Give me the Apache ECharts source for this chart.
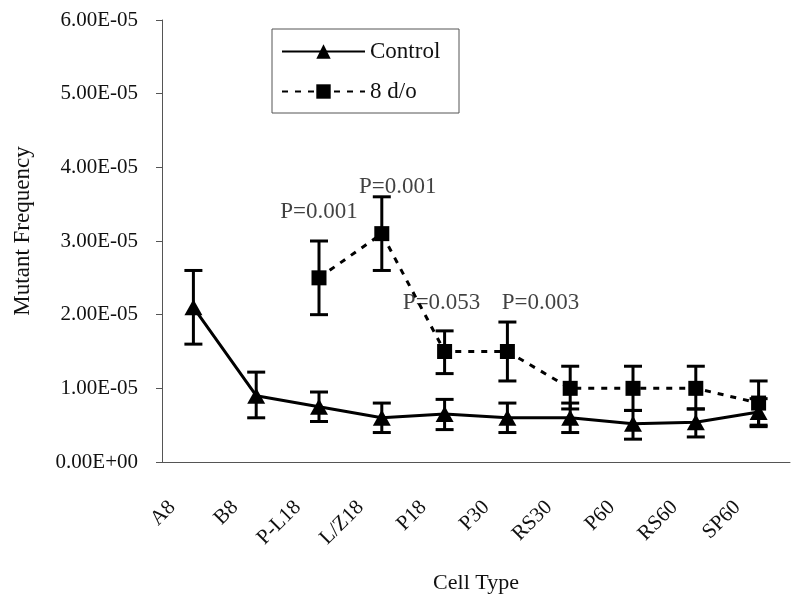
<!DOCTYPE html>
<html>
<head>
<meta charset="utf-8">
<script src="https://cdn.jsdelivr.net/npm/echarts@6/dist/echarts.min.js"></script>
<style>
  html, body { margin: 0; padding: 0; background: #fff; }
  #chart { width: 800px; height: 599px; }
</style>
</head>
<body>
<div id="chart"></div>
<script>
// ---- data ----
const categories = ['A8', 'B8', 'P-L18', 'L/Z18', 'P18', 'P30', 'RS30', 'P60', 'RS60', 'SP60'];

const controlMean = [2.1e-5, 0.9e-5, 0.75e-5, 0.6e-5, 0.65e-5, 0.6e-5, 0.6e-5, 0.52e-5, 0.54e-5, 0.68e-5];
const controlLow  = [1.6e-5, 0.6e-5, 0.55e-5, 0.4e-5, 0.44e-5, 0.4e-5, 0.4e-5, 0.31e-5, 0.34e-5, 0.5e-5];
const controlHigh = [2.6e-5, 1.22e-5, 0.95e-5, 0.8e-5, 0.85e-5, 0.8e-5, 0.8e-5, 0.7e-5, 0.72e-5, 0.86e-5];

const d8Mean = [null, null, 2.5e-5, 3.1e-5, 1.5e-5, 1.5e-5, 1.0e-5, 1.0e-5, 1.0e-5, 0.8e-5];
const d8Low  = [null, null, 2.0e-5, 2.6e-5, 1.2e-5, 1.1e-5, 0.72e-5, 0.7e-5, 0.72e-5, 0.48e-5];
const d8High = [null, null, 3.0e-5, 3.6e-5, 1.78e-5, 1.9e-5, 1.3e-5, 1.3e-5, 1.3e-5, 1.1e-5];

const seriesNames = ['Control', '8 d/o'];

const pLabels = ['P=0.001', 'P=0.001', 'P=0.053', 'P=0.003'];
const pCategories = ['P-L18', 'L/Z18', 'P18', 'P30'];
const pLevels = [3.39e-5, 3.74e-5, 2.16e-5, 2.16e-5];

const yTicks = { min: 0, max: 6e-5, interval: 1e-5 };

// ---- helpers ----
function sciLabel(v) {
  const s = Number(v).toExponential(2).toUpperCase(); // e.g. 6.00E-5
  const m = s.match(/^(-?[\d.]+)E([+-])(\d+)$/);
  if (!m) return s;
  return m[1] + 'E' + m[2] + (m[3].length < 2 ? '0' + m[3] : m[3]);
}

function errData(low, high) {
  const out = [];
  for (let i = 0; i < categories.length; i++) {
    if (low[i] != null && high[i] != null) out.push([i, low[i], high[i]]);
  }
  return out;
}

function renderErr(params, api) {
  const x = api.value(0);
  const lo = api.coord([x, api.value(1)]);
  const hi = api.coord([x, api.value(2)]);
  const hw = 9;
  const style = { stroke: '#000', lineWidth: 3, fill: null };
  return {
    type: 'group',
    children: [
      { type: 'line', shape: { x1: lo[0], y1: lo[1], x2: hi[0], y2: hi[1] }, style: style },
      { type: 'line', shape: { x1: lo[0] - hw, y1: lo[1], x2: lo[0] + hw, y2: lo[1] }, style: style },
      { type: 'line', shape: { x1: hi[0] - hw, y1: hi[1], x2: hi[0] + hw, y2: hi[1] }, style: style }
    ]
  };
}

const serif = 'Liberation Serif';
const pOffsets = [[0, 0], [16, 0], [-3, 0], [33, 0]];

const option = {
  backgroundColor: '#fff',
  animation: false,
  grid: { left: 162, right: 10, top: 20, bottom: 134 },
  legend: {
    orient: 'vertical',
    left: 272,
    top: 29,
    padding: [11, 9, 10, 9],
    itemGap: 17,
    itemWidth: 83,
    itemHeight: 18,
    borderColor: '#555',
    borderWidth: 1,
    backgroundColor: '#fff',
    textStyle: { fontFamily: serif, fontSize: 23, color: '#111', lineHeight: 22, width: 80 },
    data: seriesNames
  },
  xAxis: {
    type: 'category',
    data: categories,
    boundaryGap: true,
    name: 'Cell Type',
    nameLocation: 'middle',
    nameGap: 110,
    nameTextStyle: { fontFamily: serif, fontSize: 22, color: '#111' },
    axisLine: { lineStyle: { color: '#555', width: 1 } },
    axisTick: { show: false },
    axisLabel: {
      rotate: 45,
      margin: 21,
      padding: [0, 30, 0, 0],
      fontFamily: serif,
      fontSize: 21,
      color: '#111',
      interval: 0
    },
    splitLine: { show: false }
  },
  yAxis: {
    type: 'value',
    min: yTicks.min,
    max: yTicks.max,
    interval: yTicks.interval,
    name: 'Mutant Frequency',
    nameLocation: 'middle',
    nameGap: 128,
    nameRotate: 90,
    nameTextStyle: { fontFamily: serif, fontSize: 23, color: '#111', padding: [0, 0, 0, 20] },
    axisLine: { show: true, lineStyle: { color: '#555', width: 1 } },
    axisTick: { show: true, length: 6, inside: false, lineStyle: { color: '#555' } },
    axisLabel: {
      margin: 24,
      fontFamily: serif,
      fontSize: 21,
      color: '#111',
      formatter: sciLabel
    },
    splitLine: { show: false }
  },
  series: [
    {
      name: 'ControlErr',
      type: 'custom',
      renderItem: renderErr,
      data: errData(controlLow, controlHigh),
      z: 2,
      silent: true
    },
    {
      name: '8 d/oErr',
      type: 'custom',
      renderItem: renderErr,
      data: errData(d8Low, d8High),
      z: 2,
      silent: true
    },
    {
      name: seriesNames[0],
      type: 'line',
      data: controlMean,
      symbol: 'triangle',
      symbolSize: [18, 16],
      showSymbol: true,
      lineStyle: { color: '#000', width: 3 },
      itemStyle: { color: '#000' },
      z: 3
    },
    {
      name: seriesNames[1],
      type: 'line',
      data: d8Mean,
      symbol: 'rect',
      symbolSize: 15,
      showSymbol: true,
      connectNulls: false,
      lineStyle: { color: '#000', width: 3, type: [6, 7] },
      itemStyle: { color: '#000' },
      z: 3
    },
    {
      name: 'pvalues',
      type: 'scatter',
      symbolSize: 0,
      silent: true,
      itemStyle: { color: '#000' },
      data: pLabels.map(function (t, i) {
        return {
          name: t,
          value: [pCategories[i], pLevels[i]],
          label: { offset: pOffsets[i] }
        };
      }),
      label: {
        show: true,
        position: 'inside',
        formatter: function (p) { return p.name; },
        fontFamily: serif,
        fontSize: 23,
        color: '#111',
        textBorderWidth: 0
      },
      z: 4
    }
  ]
};

const chart = echarts.init(document.getElementById('chart'), null, { renderer: 'canvas' });
chart.setOption(option);
</script>
</body>
</html>
